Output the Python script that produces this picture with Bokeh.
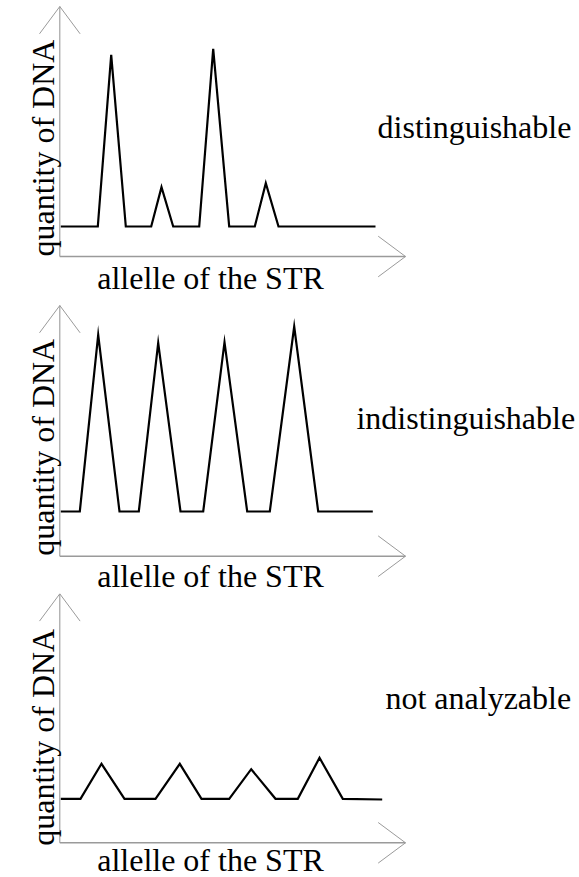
from bokeh.plotting import figure
from bokeh.layouts import column
from bokeh.models import Range1d, Label
from bokeh.embed import file_html
from bokeh.resources import INLINE

# ---- data (x = allele position, y = quantity of DNA) ----
allele_pos_distinguishable = [1, 38, 51.4, 66, 91.4, 101.7, 113.4, 139.4, 153.4, 169.4, 195, 206, 218.7, 315.7]
quantity_distinguishable = [30, 30, 201.7, 30, 30, 69.3, 30, 30, 207.7, 30, 30, 73.3, 30, 30]

allele_pos_indistinguishable = [1, 20, 38.4, 59.7, 79, 98.4, 120.7, 143.4, 164.7, 187.4, 210, 234.4, 258.4, 313]
quantity_indistinguishable = [44.7, 44.7, 221.3, 44.7, 44.7, 213.3, 44.7, 44.7, 214, 44.7, 44.7, 229.7, 44.7, 44.7]

allele_pos_not_analyzable = [1, 20.7, 41.7, 64.7, 95.7, 120, 141.7, 169.4, 191.4, 215.7, 238, 259.7, 283, 322.4]
quantity_not_analyzable = [44, 44, 79, 44, 44, 79, 44, 44, 73.6, 44, 44, 85, 44, 43.3]

panel_titles = ["distinguishable", "indistinguishable", "not analyzable"]
x_axis_label = "allelle of the STR"
y_axis_label = "quantity of DNA"

# ---- layout / style ----
FONT = "Liberation Serif"
FS = "32px"
W = 579
X0 = -59.3
AXIS_X_LEN = 345.7
HEAD_BACK = 27.3
HEAD_HALF = 20.3
AXIS_COLOR = "#9a9a9a"
BASE_FIX = 10.5  # anchor shift so the glyph baseline lands where wanted

panels = [
    dict(x=allele_pos_distinguishable, y=quantity_distinguishable, h=299, ylen=250.0,
         yr=(-43, 256), title=panel_titles[0], tx=414.7, ty=119.3, xl_y=-32.3, yl_y=108.5),
    dict(x=allele_pos_indistinguishable, y=quantity_indistinguishable, h=294, ylen=250.7,
         yr=(-37.3, 256.7), title=panel_titles[1], tx=406.0, ty=127.4, xl_y=-30.2, yl_y=109.0),
    dict(x=allele_pos_not_analyzable, y=quantity_not_analyzable, h=284, ylen=249.0,
         yr=(-34.7, 249.3), title=panel_titles[2], tx=418.5, ty=134.0, xl_y=-27.7, yl_y=105.6),
]

figs = []
for pn in panels:
    p = figure(width=W, height=pn["h"], output_backend="svg", toolbar_location=None,
               x_range=Range1d(X0, X0 + W), y_range=Range1d(*pn["yr"]),
               x_axis_type=None, y_axis_type=None, min_border=0,
               min_border_left=0, min_border_right=0, min_border_top=0, min_border_bottom=0)
    p.outline_line_color = None
    p.grid.visible = False
    p.background_fill_color = "white"
    p.border_fill_color = "white"

    ylen = pn["ylen"]
    # axes with open arrowheads
    p.line([0, AXIS_X_LEN], [0, 0], line_color=AXIS_COLOR, line_width=1.6)
    p.line([0, 0], [0, ylen], line_color=AXIS_COLOR, line_width=1.1)
    p.multi_line(
        xs=[[AXIS_X_LEN - HEAD_BACK, AXIS_X_LEN, AXIS_X_LEN - HEAD_BACK],
            [-HEAD_HALF, 0, HEAD_HALF]],
        ys=[[HEAD_HALF, 0, -HEAD_HALF],
            [ylen - HEAD_BACK, ylen, ylen - HEAD_BACK]],
        line_color=AXIS_COLOR, line_width=1.0)

    # trace
    p.line(pn["x"], pn["y"], line_color="black", line_width=2.2, line_join="miter")

    # labels
    p.add_layout(Label(x=150.7, y=pn["xl_y"] + BASE_FIX, text=x_axis_label, text_font=FONT,
                       text_font_size=FS, text_align="center",
                       text_baseline="alphabetic", text_color="black"))
    p.add_layout(Label(x=-6.0 - BASE_FIX, y=pn["yl_y"], text=y_axis_label, text_font=FONT,
                       text_font_size=FS, text_align="center", angle=1.5707963,
                       text_baseline="alphabetic", text_color="black"))
    p.add_layout(Label(x=pn["tx"], y=pn["ty"] + BASE_FIX, text=pn["title"], text_font=FONT,
                       text_font_size=FS, text_align="center",
                       text_baseline="alphabetic", text_color="black"))
    figs.append(p)

layout = column(*figs, spacing=0)
open("out.html", "w").write(file_html(layout, INLINE))
